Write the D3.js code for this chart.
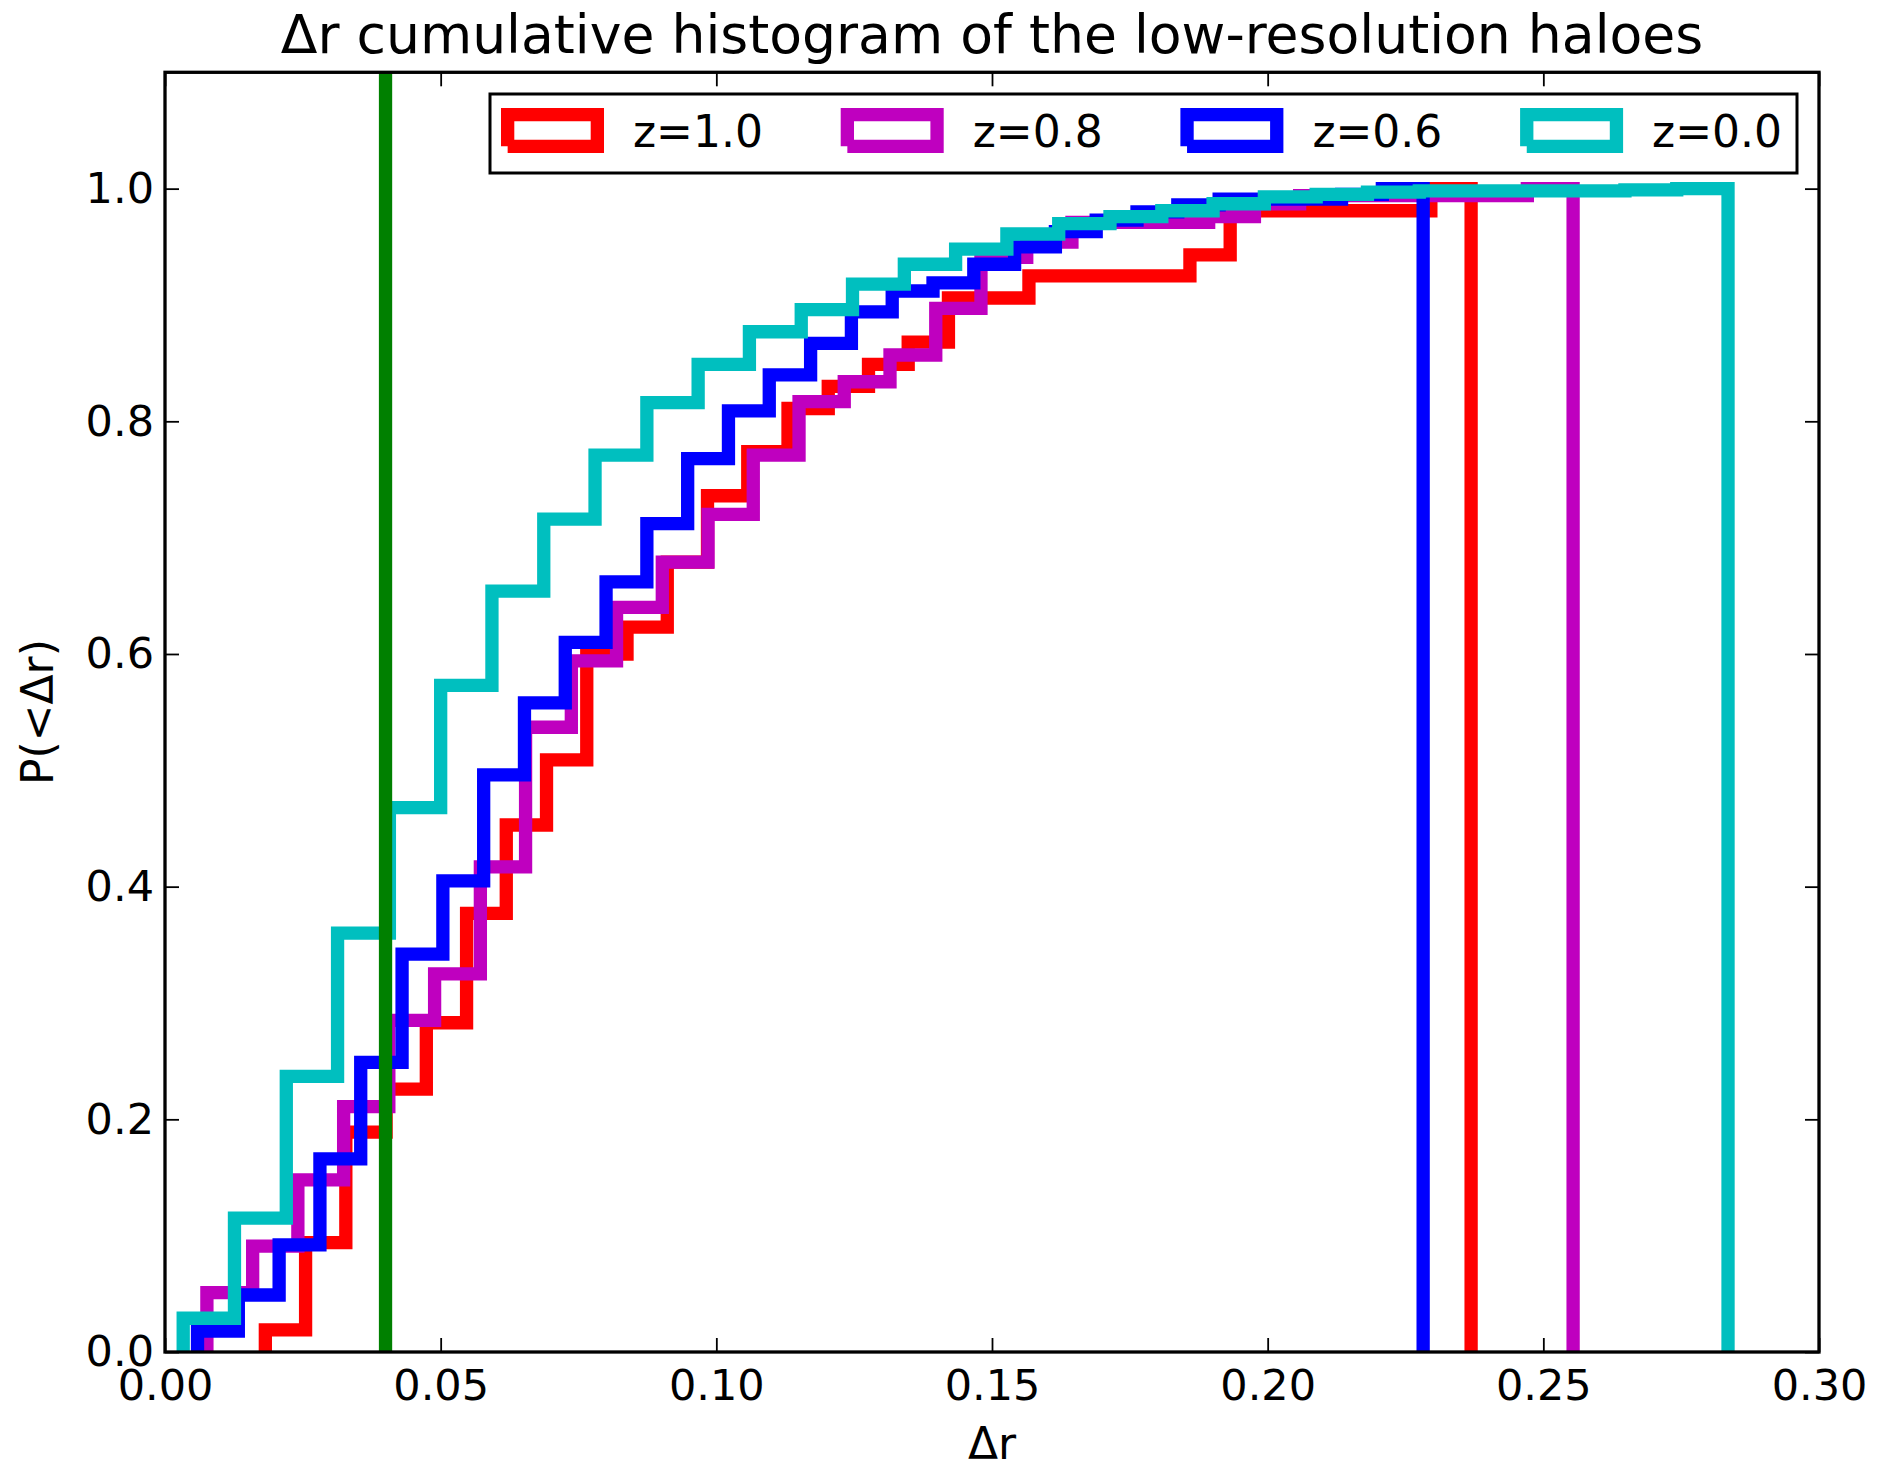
<!DOCTYPE html>
<html>
<head>
<meta charset="utf-8">
<script src="https://cdn.jsdelivr.net/npm/d3@7"></script>
<style>
  body { margin: 0; background: #fff; }
  svg { display: block; }
  text { font-family: "DejaVu Sans", sans-serif; fill: #000; }
</style>
</head>
<body>
<svg id="chart" width="1880" height="1465"></svg>
<script>
// ---------------- data ----------------
const titleText = "\u0394r cumulative histogram of the low-resolution haloes";
const xLabelText = "\u0394r";
const yLabelText = "P(<\u0394r)";

const xTickValues = [0, 0.05, 0.10, 0.15, 0.20, 0.25, 0.30];
const xTickLabels = ["0.00", "0.05", "0.10", "0.15", "0.20", "0.25", "0.30"];
const yTickValues = [0, 0.2, 0.4, 0.6, 0.8, 1.0];
const yTickLabels = ["0.0", "0.2", "0.4", "0.6", "0.8", "1.0"];

const seriesLabels = ["z=1.0", "z=0.8", "z=0.6", "z=0.0"];
const seriesColors = ["#ff0000", "#bf00bf", "#0000ff", "#00bfbf"];

// bin edges (31 each) and cumulative fractions (30 each)
const edgesZ10 = [0.0182, 0.0255, 0.0328, 0.0401, 0.0474, 0.0547, 0.0619, 0.0692, 0.0765, 0.0838,
                  0.0911, 0.0984, 0.1057, 0.1130, 0.1203, 0.1276, 0.1348, 0.1421, 0.1494, 0.1567,
                  0.1640, 0.1713, 0.1786, 0.1859, 0.1932, 0.2005, 0.2077, 0.2150, 0.2223, 0.2296, 0.2369];
const cumZ10 = [0.019, 0.094, 0.189, 0.226, 0.283, 0.377, 0.453, 0.509, 0.600, 0.623,
                0.679, 0.736, 0.774, 0.811, 0.830, 0.849, 0.868, 0.906, 0.906, 0.925,
                0.925, 0.925, 0.925, 0.943, 0.981, 0.981, 0.981, 0.981, 0.981, 1.000];

const edgesZ08 = [0.0076, 0.0159, 0.0241, 0.0324, 0.0406, 0.0489, 0.0572, 0.0654, 0.0737, 0.0819,
                  0.0902, 0.0985, 0.1067, 0.1150, 0.1232, 0.1315, 0.1398, 0.1480, 0.1563, 0.1645,
                  0.1728, 0.1811, 0.1893, 0.1976, 0.2058, 0.2141, 0.2224, 0.2306, 0.2389, 0.2471, 0.2554];
const cumZ08 = [0.051, 0.091, 0.148, 0.211, 0.285, 0.325, 0.417, 0.537, 0.594, 0.640,
                0.679, 0.720, 0.771, 0.817, 0.834, 0.857, 0.897, 0.941, 0.954, 0.971,
                0.971, 0.971, 0.976, 0.987, 0.994, 0.994, 0.994, 0.994, 0.994, 1.000];

const edgesZ06 = [0.0059, 0.0133, 0.0207, 0.0281, 0.0355, 0.0430, 0.0504, 0.0578, 0.0652, 0.0726,
                  0.0800, 0.0874, 0.0948, 0.1022, 0.1096, 0.1171, 0.1245, 0.1319, 0.1393, 0.1467,
                  0.1541, 0.1615, 0.1689, 0.1763, 0.1837, 0.1912, 0.1986, 0.2060, 0.2134, 0.2208, 0.2282];
const cumZ06 = [0.018, 0.049, 0.092, 0.166, 0.249, 0.342, 0.405, 0.496, 0.558, 0.610,
                0.662, 0.712, 0.768, 0.809, 0.840, 0.867, 0.894, 0.912, 0.919, 0.935,
                0.950, 0.963, 0.973, 0.980, 0.986, 0.991, 0.991, 0.991, 0.995, 1.000];

const edgesZ00 = [0.0033, 0.0126, 0.0220, 0.0313, 0.0407, 0.0500, 0.0593, 0.0687, 0.0780, 0.0874,
                  0.0967, 0.1060, 0.1154, 0.1247, 0.1341, 0.1434, 0.1527, 0.1621, 0.1714, 0.1808,
                  0.1901, 0.1994, 0.2088, 0.2181, 0.2275, 0.2368, 0.2461, 0.2555, 0.2648, 0.2742, 0.2835];
const cumZ00 = [0.029, 0.115, 0.237, 0.360, 0.468, 0.573, 0.654, 0.716, 0.771, 0.816,
                0.849, 0.877, 0.896, 0.918, 0.935, 0.948, 0.961, 0.970, 0.976, 0.981,
                0.987, 0.993, 0.995, 0.997, 0.998, 0.998, 0.998, 0.998, 0.999, 1.000];

const markerX = 0.04;
const markerColor = "#008000";

// ---------------- layout ----------------
const W = 1880, H = 1465;
const plot = { left: 165, right: 1819, top: 72.3, bottom: 1352 };
const lineW = 13.3;
const tickFont = 43, labelFont = 44, titleFont = 53.6, legendFont = 44;

const svg = d3.select("#chart");
svg.append("rect").attr("width", W).attr("height", H).attr("fill", "#fff");

const x = d3.scaleLinear().domain([0, 0.30]).range([plot.left, plot.right]);
const y = d3.scaleLinear().domain([0, 1.1]).range([plot.bottom, plot.top]);

svg.append("defs").append("clipPath").attr("id", "clip")
  .append("rect")
  .attr("x", plot.left).attr("y", plot.top)
  .attr("width", plot.right - plot.left).attr("height", plot.bottom - plot.top);

const series = [
  { label: seriesLabels[0], color: seriesColors[0], edges: edgesZ10, cum: cumZ10 },
  { label: seriesLabels[1], color: seriesColors[1], edges: edgesZ08, cum: cumZ08 },
  { label: seriesLabels[2], color: seriesColors[2], edges: edgesZ06, cum: cumZ06 },
  { label: seriesLabels[3], color: seriesColors[3], edges: edgesZ00, cum: cumZ00 }
];

function stepPoints(s) {
  const pts = [[s.edges[0], 0]];
  s.cum.forEach((v, i) => {
    pts.push([s.edges[i], v]);
    pts.push([s.edges[i + 1], v]);
  });
  pts.push([s.edges[s.edges.length - 1], 0]);
  return pts;
}

const line = d3.line().x(d => x(d[0])).y(d => y(d[1]));
const dataG = svg.append("g").attr("clip-path", "url(#clip)");

series.forEach(s => {
  dataG.append("path")
    .attr("d", line(stepPoints(s)))
    .attr("fill", "none")
    .attr("stroke", s.color)
    .attr("stroke-width", lineW)
    .attr("stroke-linejoin", "miter")
    .attr("stroke-linecap", "butt");
});

dataG.append("line")
  .attr("x1", x(markerX)).attr("x2", x(markerX))
  .attr("y1", y(0)).attr("y2", y(1.1))
  .attr("stroke", markerColor)
  .attr("stroke-width", lineW);

// ---------------- axes ----------------
const tickLen = 14;
function styleAxis(g) {
  g.select(".domain").remove();
  g.selectAll(".tick line").attr("stroke", "#000").attr("stroke-width", 1.8);
  g.selectAll(".tick text").attr("font-size", tickFont).attr("fill", "#000")
    .style("font-family", "'DejaVu Sans', sans-serif");
}

svg.append("g").attr("transform", `translate(0,${plot.bottom})`)
  .call(d3.axisBottom(x).tickValues(xTickValues).tickFormat((d, i) => xTickLabels[i])
        .tickSize(-tickLen).tickPadding(17))
  .call(styleAxis);

svg.append("g").attr("transform", `translate(0,${plot.top})`)
  .call(d3.axisTop(x).tickValues(xTickValues).tickFormat("").tickSize(-tickLen))
  .call(styleAxis);

svg.append("g").attr("transform", `translate(${plot.left},0)`)
  .call(d3.axisLeft(y).tickValues(yTickValues).tickFormat((d, i) => yTickLabels[i])
        .tickSize(-tickLen).tickPadding(11))
  .call(styleAxis);

svg.append("g").attr("transform", `translate(${plot.right},0)`)
  .call(d3.axisRight(y).tickValues(yTickValues).tickFormat("").tickSize(-tickLen))
  .call(styleAxis);

svg.append("rect")
  .attr("x", plot.left).attr("y", plot.top)
  .attr("width", plot.right - plot.left).attr("height", plot.bottom - plot.top)
  .attr("fill", "none").attr("stroke", "#000").attr("stroke-width", 3.3);

// ---------------- titles ----------------
const cx = (plot.left + plot.right) / 2;
svg.append("text").attr("x", cx).attr("y", 52.7)
  .attr("text-anchor", "middle").attr("font-size", titleFont).text(titleText);

svg.append("text").attr("x", cx).attr("y", 1459)
  .attr("text-anchor", "middle").attr("font-size", labelFont).text(xLabelText);

svg.append("text")
  .attr("transform", `translate(53,${(plot.top + plot.bottom) / 2}) rotate(-90)`)
  .attr("text-anchor", "middle").attr("font-size", labelFont).text(yLabelText);

// ---------------- legend ----------------
const legend = { left: 490, right: 1797, top: 94, bottom: 173 };
const legendG = svg.append("g");
legendG.append("rect")
  .attr("x", legend.left).attr("y", legend.top)
  .attr("width", legend.right - legend.left).attr("height", legend.bottom - legend.top)
  .attr("fill", "#fff").attr("stroke", "#000").attr("stroke-width", 3);

const entryStep = 339.7;
const patchOffset = 11, patchW = 103, patchH = 45, patchTop = 108;
series.forEach((s, i) => {
  const ox = legend.left + patchOffset + i * entryStep;
  const h = lineW / 2;
  const x0 = ox + h, x1 = ox + patchW - h;
  const y0 = patchTop + h, y1 = patchTop + patchH - h;
  legendG.append("path")
    .attr("d", `M${x0},${y1}L${x0},${y0}L${x1},${y0}L${x1},${y1}L${x0},${y1}`)
    .attr("fill", "none").attr("stroke", s.color)
    .attr("stroke-width", lineW).attr("stroke-linejoin", "miter").attr("stroke-linecap", "butt");
  legendG.append("text")
    .attr("x", ox + 132).attr("y", 147)
    .attr("font-size", legendFont).text(s.label);
});
</script>
</body>
</html>
